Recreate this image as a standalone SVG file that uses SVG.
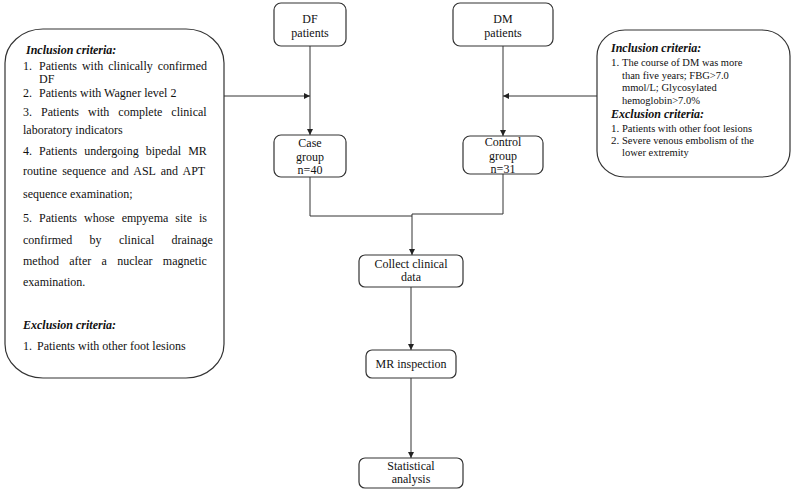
<svg xmlns="http://www.w3.org/2000/svg" width="793" height="492" viewBox="0 0 793 492">
<defs>
<marker id="arr" viewBox="0 0 10 10" refX="10" refY="5" markerWidth="7" markerHeight="6" markerUnits="userSpaceOnUse" orient="auto">
<path d="M0,0 L10,5 L0,10 z" fill="#222"/>
</marker>
<style>
.box{fill:#fff;stroke:#333;stroke-width:1.2}
.t{font-family:"Liberation Serif","Times New Roman",serif;font-size:12px;fill:#111}
.c{text-anchor:middle}
.h{font-family:"Liberation Serif","Times New Roman",serif;font-size:12px;font-weight:bold;font-style:italic;fill:#111}
.s{font-family:"Liberation Serif","Times New Roman",serif;font-size:10.5px;fill:#111}
.n{font-family:"Liberation Serif","Times New Roman",serif;font-size:11px;fill:#111}
.ln{fill:none;stroke:#333;stroke-width:1}
</style>
</defs>
<rect width="793" height="492" fill="#fff"/>
<g id="connectors">
<line class="ln" x1="310" y1="46" x2="310" y2="135" marker-end="url(#arr)"/>
<line class="ln" x1="224" y1="96" x2="310" y2="96" marker-end="url(#arr)"/>
<line class="ln" x1="503" y1="46" x2="503" y2="136" marker-end="url(#arr)"/>
<line class="ln" x1="597" y1="96" x2="503" y2="96" marker-end="url(#arr)"/>
<polyline class="ln" points="310,177 310,216 412,216"/>
<polyline class="ln" points="503,174 503,214 412,214"/>
<line class="ln" x1="412" y1="214" x2="412" y2="255" marker-end="url(#arr)"/>
<line class="ln" x1="411" y1="287" x2="411" y2="350" marker-end="url(#arr)"/>
<line class="ln" x1="411" y1="378" x2="411" y2="458" marker-end="url(#arr)"/>
</g>
<g id="left-criteria">
<rect class="box" x="5" y="29" width="219" height="349" rx="38" ry="34"/>
<text class="h" x="26" y="54">Inclusion criteria:</text>
<text class="t" x="23" y="70">1.</text>
<text class="t" x="39" y="70" word-spacing="1.9">Patients with clinically confirmed</text>
<text class="t" x="39" y="83">DF</text>
<text class="t" x="23" y="97">2.</text>
<text class="t" x="39" y="97">Patients with Wagner level 2</text>
<text class="t" x="23" y="116" word-spacing="6">3. Patients with complete clinical</text>
<text class="t" x="23" y="134">laboratory indicators</text>
<text class="t" x="23" y="155" word-spacing="4.1">4. Patients undergoing bipedal MR</text>
<text class="t" x="23" y="175" word-spacing="2.2">routine sequence and ASL and APT</text>
<text class="t" x="23" y="198">sequence examination;</text>
<text class="t" x="23" y="222" word-spacing="4">5. Patients whose empyema site is</text>
<text class="t" x="23" y="244" word-spacing="14.3">confirmed by clinical drainage</text>
<text class="t" x="23" y="265" word-spacing="7.3">method after a nuclear magnetic</text>
<text class="t" x="23" y="286">examination.</text>
<text class="h" x="23" y="329">Exclusion criteria:</text>
<text class="t" x="23" y="350">1.</text>
<text class="t" x="37" y="350">Patients with other foot lesions</text>
</g>
<g id="right-criteria">
<rect class="box" x="597" y="30" width="193" height="147" rx="28" ry="26"/>
<text class="h" x="611" y="52">Inclusion criteria:</text>
<text class="n" x="611" y="66">1.</text>
<text class="s" x="622" y="66">The course of DM was more</text>
<text class="s" x="622" y="79">than five years; FBG&gt;7.0</text>
<text class="s" x="622" y="91">mmol/L; Glycosylated</text>
<text class="s" x="622" y="104">hemoglobin&gt;7.0%</text>
<text class="h" x="611" y="118">Exclusion criteria:</text>
<text class="n" x="611" y="132">1.</text>
<text class="s" x="622" y="132">Patients with other foot lesions</text>
<text class="n" x="611" y="144">2.</text>
<text class="s" x="622" y="144">Severe venous embolism of the</text>
<text class="s" x="622" y="156">lower extremity</text>
</g>
<g id="df-patients">
<rect class="box" x="274" y="3" width="72" height="43" rx="7"/>
<text class="t c" x="310" y="23">DF</text>
<text class="t c" x="310" y="37">patients</text>
</g>
<g id="dm-patients">
<rect class="box" x="453" y="3" width="100" height="43" rx="7"/>
<text class="t c" x="503" y="23">DM</text>
<text class="t c" x="503" y="37">patients</text>
</g>
<g id="case-group">
<rect class="box" x="274" y="135" width="72" height="42" rx="7"/>
<text class="t c" x="310" y="147">Case</text>
<text class="t c" x="310" y="161">group</text>
<text class="t c" x="310" y="174">n=40</text>
</g>
<g id="control-group">
<rect class="box" x="463" y="136" width="80" height="38" rx="7"/>
<text class="t c" x="503" y="146">Control</text>
<text class="t c" x="503" y="160">group</text>
<text class="t c" x="503" y="173">n=31</text>
</g>
<g id="collect-data">
<rect class="box" x="359" y="255" width="104" height="32" rx="6"/>
<text class="t c" x="411" y="268">Collect clinical</text>
<text class="t c" x="411" y="281">data</text>
</g>
<g id="mr-inspection">
<rect class="box" x="366" y="350" width="90" height="28" rx="6"/>
<text class="t c" x="411" y="368">MR inspection</text>
</g>
<g id="statistical-analysis">
<rect class="box" x="359" y="458" width="104" height="30" rx="6"/>
<text class="t c" x="411" y="470">Statistical</text>
<text class="t c" x="411" y="483">analysis</text>
</g>
</svg>
